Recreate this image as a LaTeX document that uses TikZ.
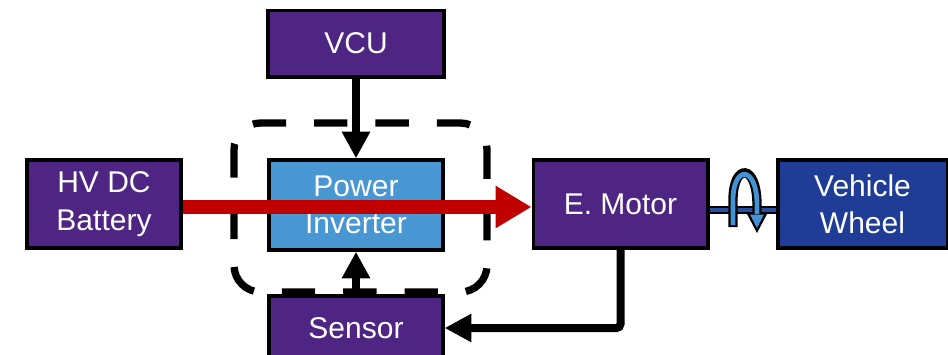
\documentclass[tikz,border=0pt]{standalone}
\usepackage{fontspec}
\setmainfont{Liberation Sans}
\usetikzlibrary{arrows.meta}
\definecolor{boxpurple}{RGB}{78,37,131}
\definecolor{invblue}{RGB}{72,151,211}
\definecolor{wheelblue}{RGB}{31,60,150}
\definecolor{flowred}{RGB}{192,0,0}
\definecolor{spinblue}{RGB}{66,146,212}
\begin{document}
\begin{tikzpicture}[x=0.75pt,y=0.75pt,yscale=-1,xscale=1,
  blk/.style={draw=black,line width=2.5pt,fill=boxpurple,text=white,align=center,
    inner sep=0pt,font=\fontsize{22.5}{28}\selectfont},
  sig/.style={draw=black,line width=6pt,-{Triangle[length=20pt,width=20pt]}}]
\useasboundingbox (0,0) rectangle (948,354);
% blocks
\node (vcu) [blk,minimum width=132pt,minimum height=50pt] at (356,43.5) {VCU};
\node (bat) [blk,minimum width=115.5pt,minimum height=66pt] at (104,204) {HV DC\\Battery};
\node (inv) [blk,fill=invblue,minimum width=130.5pt,minimum height=67.5pt] at (356,205) {Power\\Inverter};
\node (mot) [blk,minimum width=131pt,minimum height=66pt] at (620.5,204) {E. Motor};
\node (whl) [blk,fill=wheelblue,minimum width=127pt,minimum height=66pt] at (862.5,204) {Vehicle\\Wheel};
\node (sen) [blk,minimum width=130.5pt,minimum height=48pt] at (356,328) {Sensor};
% dashed boundary
\draw [line width=5.5pt,dash pattern=on 25pt off 21pt,dash phase=4pt,rounded corners=20pt] (234,123) rectangle (487,292);
% signals
\draw [sig] (vcu.south) -- (inv.north);
\draw [sig] (sen.north) -- (inv.south);
\draw [sig,rounded corners=3pt] (mot.south) |- (sen.east);
% shaft and rotation
\draw [line width=6pt,black] (mot.east) ++(0,6) coordinate (s1) -- (whl.west |- s1) coordinate (s2);
\draw [line width=3.2pt,wheelblue!80!invblue] (s1) -- (s2);
\draw [line width=7pt,black,line cap=butt] (733,227) -- (733,200) .. controls (733,163) and (757,163) .. (757,205) -- (757,214);
\fill [black] (746,212) -- (768,212) -- (757,233) -- cycle;
\draw [line width=3.6pt,spinblue,line cap=butt] (733,225) -- (733,200) .. controls (733,165) and (757,165) .. (757,205) -- (757,214);
\fill [spinblue] (750,214.5) -- (764,214.5) -- (757,228) -- cycle;
% power flow
\draw [flowred,line width=10pt,-{Triangle[length=27pt,width=30pt]}] (bat.east |- 0,207) -- (mot.west |- 0,207);
\end{tikzpicture}
\end{document}
